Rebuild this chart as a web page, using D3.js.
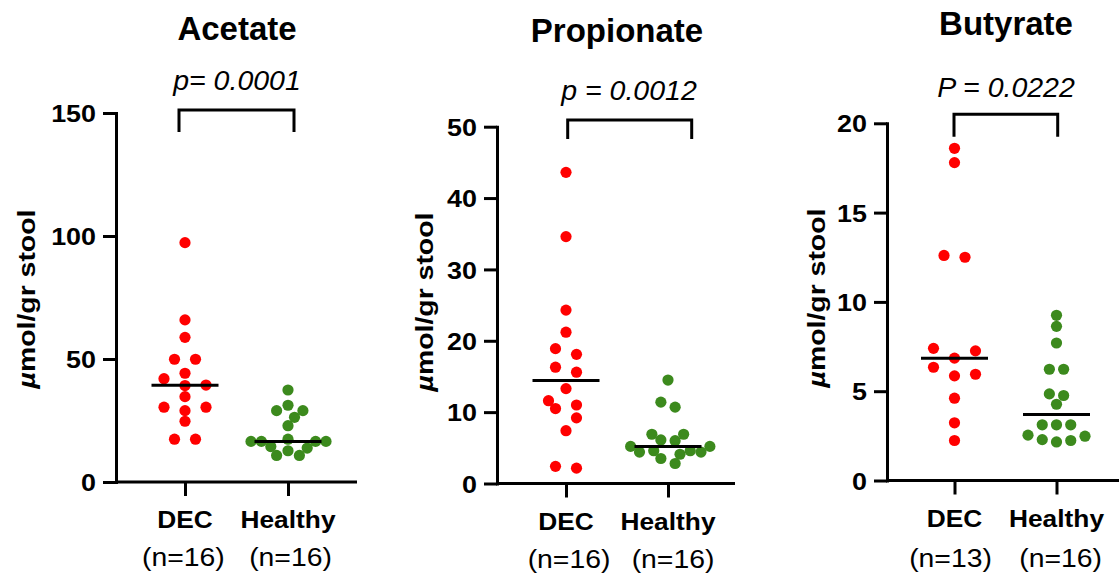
<!DOCTYPE html>
<html><head><meta charset="utf-8">
<script src="https://cdn.jsdelivr.net/npm/d3@7/dist/d3.min.js"></script>
<style>html,body{margin:0;padding:0;background:#fff;} svg{display:block;}</style>
</head><body>
<svg id="chart" width="1119" height="585"></svg>
<script>
// ---------------- DATA ----------------
const groups = ["DEC", "Healthy"];
const titles = ["Acetate", "Propionate", "Butyrate"];
const pLabels = ["p= 0.0001", "p = 0.0012", "P = 0.0222"];
const nLabels = [["(n=16)", "(n=16)"], ["(n=16)", "(n=16)"], ["(n=13)", "(n=16)"]];
const yLabelUnit = "µ";
const yLabelRest = "mol/gr stool";
const acetateTicks = [0, 50, 100, 150];
const propionateTicks = [0, 10, 20, 30, 40, 50];
const butyrateTicks = [0, 5, 10, 15, 20];
const acetateDEC = [97.3, 65.9, 58.8, 49.9, 49.9, 44.2, 42.0, 39.4, 39.2, 34.7, 30.4, 30.4, 29.0, 24.7, 17.4, 17.4];
const acetateHealthy = [37.4, 31.2, 29.0, 29.0, 26.3, 22.9, 17.4, 16.5, 16.5, 16.5, 16.5, 14.4, 13.8, 12.7, 10.8, 10.8];
const propionateDEC = [43.6, 34.6, 24.3, 21.2, 18.9, 18.1, 16.3, 15.6, 13.3, 11.6, 11.0, 10.5, 9.2, 7.4, 2.4, 2.15];
const propionateHealthy = [14.5, 11.4, 10.7, 6.9, 6.9, 6.1, 6.0, 5.2, 5.2, 4.6, 4.6, 4.4, 4.4, 4.1, 3.5, 2.8];
const butyrateDEC = [18.6, 17.8, 12.6, 12.5, 7.40, 7.26, 6.85, 6.34, 5.95, 5.86, 4.61, 3.23, 2.24];
const butyrateHealthy = [9.25, 8.63, 7.70, 6.23, 6.23, 4.85, 4.76, 4.27, 3.12, 3.12, 3.12, 2.54, 2.48, 2.29, 2.24, 2.16];

const panelTicks = [acetateTicks, propionateTicks, butyrateTicks];
const panelValues = [[acetateDEC, acetateHealthy], [propionateDEC, propionateHealthy], [butyrateDEC, butyrateHealthy]];
const colors = ["#ff0000", "#3c8a1d"];

// ---------------- LAYOUT ----------------
const layout = [
  {axisX: 116, yTop: 113, y0: 482, xEnd: 357, cx: [185, 288], titleX: 237, titleY: 40, pX: 237, pY: 90,
   br: [179, 294, 110, 132], yLabX: 35, yLabY: 299, catY: 527.7, nY: 566, nX: [183.3, 290.5]},
  {axisX: 497, yTop: 126.7, y0: 483.5, xEnd: 735, cx: [566, 668], titleX: 617, titleY: 41.5, pX: 629, pY: 99.5,
   br: [567.7, 691.7, 120, 139], yLabX: 433, yLabY: 302, catY: 529.5, nY: 568, nX: [569, 673]},
  {axisX: 887, yTop: 123.3, y0: 480.5, xEnd: 1119, cx: [954.5, 1056.5], titleX: 1006, titleY: 35, pX: 1006, pY: 96.7,
   br: [954, 1057.7, 114.3, 136.7], yLabX: 825, yLabY: 298, catY: 527, nY: 567, nX: [950.5, 1060.6]}
];
const FONT = "'Liberation Sans', Arial, Helvetica, sans-serif";
const R = 5.6;

const svg = d3.select("#chart");

function addText(g, str, x, y, o) {
  return g.append("text")
    .attr("transform", `translate(${x},${y})${o.rotate ? " rotate(" + o.rotate + ")" : ""} scale(${o.sx || 1},1)`)
    .attr("text-anchor", o.anchor || "middle")
    .attr("font-family", FONT)
    .attr("font-size", o.size)
    .attr("font-weight", o.weight || "normal")
    .attr("font-style", o.style || "normal")
    .attr("fill", "#000")
    .text(str);
}

// beeswarm layout: rows centred on the category, pushed outward on collision
function makeRows(pts, H) {
  const rows = [];
  pts.forEach(p => {
    const last = rows[rows.length - 1];
    if (last && Math.abs(last[0].py - p.py) < H) last.push(p); else rows.push([p]);
  });
  return rows;
}
function swarm(values, yScale) {
  const U = 10.5, W = 57, D = 10.4;
  const pts = values.map(v => ({v, py: yScale(v)})).sort((a, b) => a.v - b.v);
  let rows = makeRows(pts, 10);
  if (d3.max(rows, r => r.length) > 3) rows = makeRows(pts, 7);
  const maxRow = d3.max(rows, r => r.length);
  const sp = maxRow > 1 ? Math.min(2 * U, W / (maxRow - 1)) : 2 * U;
  const placed = [];
  const collides = (x, y) => placed.some(q => (q.x - x) ** 2 + (q.py - y) ** 2 < D * D - 1e-6);
  rows.forEach(row => {
    const n = row.length;
    const slots = d3.range(n).map(i => (i - (n - 1) / 2) * sp);
    const inner = slots.slice().sort((a, b) => Math.abs(a) - Math.abs(b) || b - a);
    const outer = inner.slice().reverse();
    const pairs = [], singles = [];
    for (let k = 0; k < row.length; k++) {
      if (k + 1 < row.length && Math.abs(row[k].v - row[k + 1].v) < 1e-9) { pairs.push([row[k], row[k + 1]]); k++; }
      else singles.push(row[k]);
    }
    const assign = [];
    pairs.forEach((pr, k) => { assign.push([pr[0], outer[2 * k + 1]]); assign.push([pr[1], outer[2 * k]]); });
    const rem = inner.slice(0, n - 2 * pairs.length);
    singles.forEach((s, k) => assign.push([s, rem[k]]));
    assign.sort((a, b) => Math.abs(a[1]) - Math.abs(b[1]));
    assign.forEach(([p, x0]) => {
      let x = x0;
      if (collides(x, p.py)) {
        const dir = Math.sign(x0);
        for (let s = 0.5; s < 200; s += 0.5) {
          if (dir >= 0 && !collides(x0 + s, p.py)) { x = x0 + s; break; }
          if (dir <= 0 && !collides(x0 - s, p.py)) { x = x0 - s; break; }
        }
      }
      p.x = x; placed.push(p);
    });
  });
  return pts;
}

layout.forEach((L, pi) => {
  const g = svg.append("g");
  const ticks = panelTicks[pi];
  const y = d3.scaleLinear().domain([0, d3.max(ticks)]).range([L.y0, L.yTop]);
  const x = d3.scalePoint().domain(groups).range(L.cx);

  // y axis
  const ya = g.append("g").attr("transform", `translate(${L.axisX},0)`)
    .call(d3.axisLeft(y).tickValues(ticks).tickSize(13).tickSizeOuter(0));
  ya.select(".domain").attr("stroke", "#000").attr("stroke-width", 3).attr("stroke-linecap", "square");
  ya.selectAll(".tick line").attr("stroke", "#000").attr("stroke-width", 3);
  ya.selectAll(".tick text").remove();
  ya.selectAll(".tick").each(function (d) {
    addText(d3.select(this), d, -20, 8.6, {size: 24, weight: "bold", sx: 1.12, anchor: "end"});
  });

  // x axis
  g.append("line").attr("x1", L.axisX).attr("x2", L.xEnd).attr("y1", L.y0).attr("y2", L.y0)
    .attr("stroke", "#000").attr("stroke-width", 3);
  const xa = g.append("g").attr("transform", `translate(0,${L.y0})`)
    .call(d3.axisBottom(x).tickSize(14).tickSizeOuter(0).tickFormat(""));
  xa.select(".domain").remove();
  xa.selectAll(".tick line").attr("stroke", "#000").attr("stroke-width", 3);

  // category labels
  groups.forEach((grp, gi) => {
    addText(g, grp, x(grp), L.catY, {size: 23.5, weight: "bold", sx: 1.12});
    addText(g, nLabels[pi][gi], L.nX[gi], L.nY, {size: 26.5, sx: 1.07});
  });

  // points and medians
  groups.forEach((grp, gi) => {
    const vals = panelValues[pi][gi];
    const pts = swarm(vals, y);
    g.append("g").selectAll("circle").data(pts).join("circle")
      .attr("cx", d => x(grp) + d.x).attr("cy", d => d.py).attr("r", R)
      .attr("fill", colors[gi]);
    const med = d3.median(vals);
    g.append("line").attr("x1", x(grp) - 33.5).attr("x2", x(grp) + 33.5)
      .attr("y1", y(med)).attr("y2", y(med)).attr("stroke", "#000").attr("stroke-width", 3);
  });

  // bracket
  const [bx1, bx2, byt, byb] = L.br;
  g.append("path").attr("d", `M${bx1},${byb}V${byt}H${bx2}V${byb}`)
    .attr("fill", "none").attr("stroke", "#000").attr("stroke-width", 3);

  // titles
  addText(g, titles[pi], L.titleX, L.titleY, {size: 33, weight: "bold", sx: 1.0});
  addText(g, pLabels[pi], L.pX, L.pY, {size: 28.5, style: "italic"});

  // y label
  const yl = addText(g, "", L.yLabX, L.yLabY, {size: 24.5, weight: "bold", sx: 1.16, rotate: -90});
  yl.append("tspan").attr("font-style", "italic").text(yLabelUnit);
  yl.append("tspan").text(yLabelRest);
});
</script>
</body></html>
